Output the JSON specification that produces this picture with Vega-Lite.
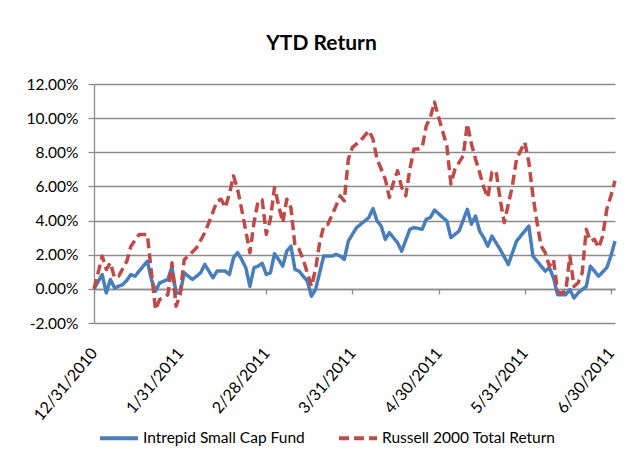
{
  "$schema": "https://vega.github.io/schema/vega-lite/v6.json",
  "width": 521,
  "height": 239,
  "autosize": {"type": "none"},
  "padding": {"left": 94, "top": 84, "right": 16, "bottom": 147},
  "background": "white",
  "config": {"view": {"stroke": null}},
  "title": {"text": "YTD Return", "font": "Lato", "fontSize": 21, "fontWeight": "bold", "color": "#000000", "anchor": "middle", "frame": "group", "dx": -33, "offset": 6, "baseline": "alphabetic"},
  "datasets": {
    "returns": [
      {"day": 0, "series": "Intrepid Small Cap Fund", "ret": 0.0},
      {"day": 2, "series": "Intrepid Small Cap Fund", "ret": 0.84},
      {"day": 3, "series": "Intrepid Small Cap Fund", "ret": -0.24},
      {"day": 4, "series": "Intrepid Small Cap Fund", "ret": 0.55},
      {"day": 5, "series": "Intrepid Small Cap Fund", "ret": 0.06},
      {"day": 7, "series": "Intrepid Small Cap Fund", "ret": 0.25},
      {"day": 8, "series": "Intrepid Small Cap Fund", "ret": 0.5},
      {"day": 9, "series": "Intrepid Small Cap Fund", "ret": 0.84},
      {"day": 10, "series": "Intrepid Small Cap Fund", "ret": 0.74},
      {"day": 11, "series": "Intrepid Small Cap Fund", "ret": 1.04},
      {"day": 13, "series": "Intrepid Small Cap Fund", "ret": 1.62},
      {"day": 14, "series": "Intrepid Small Cap Fund", "ret": 0.55},
      {"day": 15, "series": "Intrepid Small Cap Fund", "ret": -0.14},
      {"day": 16, "series": "Intrepid Small Cap Fund", "ret": 0.35},
      {"day": 18, "series": "Intrepid Small Cap Fund", "ret": 0.55},
      {"day": 19, "series": "Intrepid Small Cap Fund", "ret": 1.29},
      {"day": 20, "series": "Intrepid Small Cap Fund", "ret": -0.24},
      {"day": 21, "series": "Intrepid Small Cap Fund", "ret": -0.24},
      {"day": 22, "series": "Intrepid Small Cap Fund", "ret": 0.94},
      {"day": 23, "series": "Intrepid Small Cap Fund", "ret": 0.74},
      {"day": 24, "series": "Intrepid Small Cap Fund", "ret": 0.55},
      {"day": 26, "series": "Intrepid Small Cap Fund", "ret": 0.94},
      {"day": 27, "series": "Intrepid Small Cap Fund", "ret": 1.43},
      {"day": 29, "series": "Intrepid Small Cap Fund", "ret": 0.65},
      {"day": 30, "series": "Intrepid Small Cap Fund", "ret": 1.04},
      {"day": 32, "series": "Intrepid Small Cap Fund", "ret": 1.04},
      {"day": 33, "series": "Intrepid Small Cap Fund", "ret": 0.84},
      {"day": 34, "series": "Intrepid Small Cap Fund", "ret": 1.82},
      {"day": 35, "series": "Intrepid Small Cap Fund", "ret": 2.12},
      {"day": 36, "series": "Intrepid Small Cap Fund", "ret": 1.72},
      {"day": 37, "series": "Intrepid Small Cap Fund", "ret": 1.24},
      {"day": 38, "series": "Intrepid Small Cap Fund", "ret": 0.15},
      {"day": 39, "series": "Intrepid Small Cap Fund", "ret": 1.24},
      {"day": 40, "series": "Intrepid Small Cap Fund", "ret": 1.33},
      {"day": 41, "series": "Intrepid Small Cap Fund", "ret": 1.5},
      {"day": 42, "series": "Intrepid Small Cap Fund", "ret": 0.84},
      {"day": 43, "series": "Intrepid Small Cap Fund", "ret": 0.94},
      {"day": 44, "series": "Intrepid Small Cap Fund", "ret": 2.06},
      {"day": 45, "series": "Intrepid Small Cap Fund", "ret": 1.72},
      {"day": 46, "series": "Intrepid Small Cap Fund", "ret": 1.33},
      {"day": 47, "series": "Intrepid Small Cap Fund", "ret": 2.21},
      {"day": 48, "series": "Intrepid Small Cap Fund", "ret": 2.5},
      {"day": 49, "series": "Intrepid Small Cap Fund", "ret": 1.13},
      {"day": 50, "series": "Intrepid Small Cap Fund", "ret": 1.04},
      {"day": 51, "series": "Intrepid Small Cap Fund", "ret": 0.74},
      {"day": 52, "series": "Intrepid Small Cap Fund", "ret": 0.45},
      {"day": 53, "series": "Intrepid Small Cap Fund", "ret": -0.43},
      {"day": 54, "series": "Intrepid Small Cap Fund", "ret": -0.04},
      {"day": 55, "series": "Intrepid Small Cap Fund", "ret": 0.94},
      {"day": 56, "series": "Intrepid Small Cap Fund", "ret": 1.92},
      {"day": 58, "series": "Intrepid Small Cap Fund", "ret": 1.92},
      {"day": 59, "series": "Intrepid Small Cap Fund", "ret": 2.02},
      {"day": 60, "series": "Intrepid Small Cap Fund", "ret": 1.92},
      {"day": 61, "series": "Intrepid Small Cap Fund", "ret": 1.72},
      {"day": 62, "series": "Intrepid Small Cap Fund", "ret": 2.8},
      {"day": 64, "series": "Intrepid Small Cap Fund", "ret": 3.59},
      {"day": 66, "series": "Intrepid Small Cap Fund", "ret": 3.98},
      {"day": 67, "series": "Intrepid Small Cap Fund", "ret": 4.18},
      {"day": 68, "series": "Intrepid Small Cap Fund", "ret": 4.7},
      {"day": 69, "series": "Intrepid Small Cap Fund", "ret": 3.98},
      {"day": 70, "series": "Intrepid Small Cap Fund", "ret": 3.68},
      {"day": 71, "series": "Intrepid Small Cap Fund", "ret": 2.9},
      {"day": 72, "series": "Intrepid Small Cap Fund", "ret": 3.29},
      {"day": 74, "series": "Intrepid Small Cap Fund", "ret": 2.7},
      {"day": 75, "series": "Intrepid Small Cap Fund", "ret": 2.21},
      {"day": 77, "series": "Intrepid Small Cap Fund", "ret": 3.49},
      {"day": 78, "series": "Intrepid Small Cap Fund", "ret": 3.59},
      {"day": 80, "series": "Intrepid Small Cap Fund", "ret": 3.49},
      {"day": 81, "series": "Intrepid Small Cap Fund", "ret": 4.08},
      {"day": 82, "series": "Intrepid Small Cap Fund", "ret": 4.18},
      {"day": 83, "series": "Intrepid Small Cap Fund", "ret": 4.62},
      {"day": 85, "series": "Intrepid Small Cap Fund", "ret": 4.18},
      {"day": 86, "series": "Intrepid Small Cap Fund", "ret": 3.98},
      {"day": 87, "series": "Intrepid Small Cap Fund", "ret": 3.0},
      {"day": 89, "series": "Intrepid Small Cap Fund", "ret": 3.39},
      {"day": 91, "series": "Intrepid Small Cap Fund", "ret": 4.66},
      {"day": 92, "series": "Intrepid Small Cap Fund", "ret": 3.78},
      {"day": 93, "series": "Intrepid Small Cap Fund", "ret": 4.27},
      {"day": 94, "series": "Intrepid Small Cap Fund", "ret": 3.39},
      {"day": 95, "series": "Intrepid Small Cap Fund", "ret": 3.0},
      {"day": 96, "series": "Intrepid Small Cap Fund", "ret": 2.5},
      {"day": 97, "series": "Intrepid Small Cap Fund", "ret": 3.09},
      {"day": 99, "series": "Intrepid Small Cap Fund", "ret": 2.31},
      {"day": 101, "series": "Intrepid Small Cap Fund", "ret": 1.43},
      {"day": 103, "series": "Intrepid Small Cap Fund", "ret": 2.8},
      {"day": 106, "series": "Intrepid Small Cap Fund", "ret": 3.68},
      {"day": 107, "series": "Intrepid Small Cap Fund", "ret": 1.92},
      {"day": 109, "series": "Intrepid Small Cap Fund", "ret": 1.33},
      {"day": 110, "series": "Intrepid Small Cap Fund", "ret": 1.04},
      {"day": 111, "series": "Intrepid Small Cap Fund", "ret": 1.24},
      {"day": 112, "series": "Intrepid Small Cap Fund", "ret": 0.65},
      {"day": 113, "series": "Intrepid Small Cap Fund", "ret": -0.34},
      {"day": 115, "series": "Intrepid Small Cap Fund", "ret": -0.34},
      {"day": 116, "series": "Intrepid Small Cap Fund", "ret": -0.04},
      {"day": 117, "series": "Intrepid Small Cap Fund", "ret": -0.53},
      {"day": 118, "series": "Intrepid Small Cap Fund", "ret": -0.24},
      {"day": 120, "series": "Intrepid Small Cap Fund", "ret": 0.15},
      {"day": 121, "series": "Intrepid Small Cap Fund", "ret": 1.33},
      {"day": 123, "series": "Intrepid Small Cap Fund", "ret": 0.74},
      {"day": 125, "series": "Intrepid Small Cap Fund", "ret": 1.24},
      {"day": 126, "series": "Intrepid Small Cap Fund", "ret": 1.92},
      {"day": 127, "series": "Intrepid Small Cap Fund", "ret": 2.8},
      {"day": 0, "series": "Russell 2000 Total Return", "ret": 0.0},
      {"day": 1, "series": "Russell 2000 Total Return", "ret": 0.94},
      {"day": 2, "series": "Russell 2000 Total Return", "ret": 1.92},
      {"day": 3, "series": "Russell 2000 Total Return", "ret": 1.13},
      {"day": 4, "series": "Russell 2000 Total Return", "ret": 1.53},
      {"day": 5, "series": "Russell 2000 Total Return", "ret": 0.65},
      {"day": 6, "series": "Russell 2000 Total Return", "ret": 0.74},
      {"day": 8, "series": "Russell 2000 Total Return", "ret": 1.62},
      {"day": 9, "series": "Russell 2000 Total Return", "ret": 2.5},
      {"day": 11, "series": "Russell 2000 Total Return", "ret": 3.19},
      {"day": 13, "series": "Russell 2000 Total Return", "ret": 3.19},
      {"day": 14, "series": "Russell 2000 Total Return", "ret": 0.94},
      {"day": 15, "series": "Russell 2000 Total Return", "ret": -1.22},
      {"day": 16, "series": "Russell 2000 Total Return", "ret": -0.63},
      {"day": 18, "series": "Russell 2000 Total Return", "ret": -0.34},
      {"day": 19, "series": "Russell 2000 Total Return", "ret": 1.53},
      {"day": 20, "series": "Russell 2000 Total Return", "ret": -1.02},
      {"day": 21, "series": "Russell 2000 Total Return", "ret": -0.34},
      {"day": 22, "series": "Russell 2000 Total Return", "ret": 1.72},
      {"day": 23, "series": "Russell 2000 Total Return", "ret": 1.92},
      {"day": 25, "series": "Russell 2000 Total Return", "ret": 2.41},
      {"day": 27, "series": "Russell 2000 Total Return", "ret": 3.29},
      {"day": 28, "series": "Russell 2000 Total Return", "ret": 3.88},
      {"day": 30, "series": "Russell 2000 Total Return", "ret": 5.15},
      {"day": 31, "series": "Russell 2000 Total Return", "ret": 5.25},
      {"day": 32, "series": "Russell 2000 Total Return", "ret": 4.76},
      {"day": 33, "series": "Russell 2000 Total Return", "ret": 5.55},
      {"day": 34, "series": "Russell 2000 Total Return", "ret": 6.62},
      {"day": 35, "series": "Russell 2000 Total Return", "ret": 5.84},
      {"day": 36, "series": "Russell 2000 Total Return", "ret": 4.66},
      {"day": 38, "series": "Russell 2000 Total Return", "ret": 2.12},
      {"day": 39, "series": "Russell 2000 Total Return", "ret": 3.88},
      {"day": 40, "series": "Russell 2000 Total Return", "ret": 5.15},
      {"day": 41, "series": "Russell 2000 Total Return", "ret": 5.2},
      {"day": 42, "series": "Russell 2000 Total Return", "ret": 3.19},
      {"day": 43, "series": "Russell 2000 Total Return", "ret": 4.08},
      {"day": 44, "series": "Russell 2000 Total Return", "ret": 5.94},
      {"day": 45, "series": "Russell 2000 Total Return", "ret": 4.9},
      {"day": 46, "series": "Russell 2000 Total Return", "ret": 3.88},
      {"day": 47, "series": "Russell 2000 Total Return", "ret": 5.25},
      {"day": 48, "series": "Russell 2000 Total Return", "ret": 4.76},
      {"day": 49, "series": "Russell 2000 Total Return", "ret": 2.5},
      {"day": 50, "series": "Russell 2000 Total Return", "ret": 2.31},
      {"day": 51, "series": "Russell 2000 Total Return", "ret": 1.72},
      {"day": 53, "series": "Russell 2000 Total Return", "ret": 0.15},
      {"day": 54, "series": "Russell 2000 Total Return", "ret": 1.13},
      {"day": 55, "series": "Russell 2000 Total Return", "ret": 2.7},
      {"day": 56, "series": "Russell 2000 Total Return", "ret": 3.68},
      {"day": 57, "series": "Russell 2000 Total Return", "ret": 3.78},
      {"day": 59, "series": "Russell 2000 Total Return", "ret": 4.86},
      {"day": 60, "series": "Russell 2000 Total Return", "ret": 5.45},
      {"day": 61, "series": "Russell 2000 Total Return", "ret": 5.15},
      {"day": 62, "series": "Russell 2000 Total Return", "ret": 7.6},
      {"day": 63, "series": "Russell 2000 Total Return", "ret": 8.29},
      {"day": 65, "series": "Russell 2000 Total Return", "ret": 8.68},
      {"day": 67, "series": "Russell 2000 Total Return", "ret": 9.27},
      {"day": 68, "series": "Russell 2000 Total Return", "ret": 8.78},
      {"day": 69, "series": "Russell 2000 Total Return", "ret": 7.6},
      {"day": 70, "series": "Russell 2000 Total Return", "ret": 7.02},
      {"day": 71, "series": "Russell 2000 Total Return", "ret": 6.43},
      {"day": 72, "series": "Russell 2000 Total Return", "ret": 5.35},
      {"day": 73, "series": "Russell 2000 Total Return", "ret": 6.24},
      {"day": 74, "series": "Russell 2000 Total Return", "ret": 6.92},
      {"day": 75, "series": "Russell 2000 Total Return", "ret": 5.94},
      {"day": 76, "series": "Russell 2000 Total Return", "ret": 5.45},
      {"day": 77, "series": "Russell 2000 Total Return", "ret": 7.02},
      {"day": 78, "series": "Russell 2000 Total Return", "ret": 8.19},
      {"day": 79, "series": "Russell 2000 Total Return", "ret": 8.19},
      {"day": 80, "series": "Russell 2000 Total Return", "ret": 8.29},
      {"day": 81, "series": "Russell 2000 Total Return", "ret": 9.56},
      {"day": 82, "series": "Russell 2000 Total Return", "ret": 10.06},
      {"day": 83, "series": "Russell 2000 Total Return", "ret": 10.94},
      {"day": 84, "series": "Russell 2000 Total Return", "ret": 10.06},
      {"day": 86, "series": "Russell 2000 Total Return", "ret": 8.39},
      {"day": 87, "series": "Russell 2000 Total Return", "ret": 6.14},
      {"day": 88, "series": "Russell 2000 Total Return", "ret": 7.02},
      {"day": 90, "series": "Russell 2000 Total Return", "ret": 7.8},
      {"day": 91, "series": "Russell 2000 Total Return", "ret": 9.66},
      {"day": 92, "series": "Russell 2000 Total Return", "ret": 8.5},
      {"day": 93, "series": "Russell 2000 Total Return", "ret": 7.6},
      {"day": 94, "series": "Russell 2000 Total Return", "ret": 6.82},
      {"day": 95, "series": "Russell 2000 Total Return", "ret": 5.94},
      {"day": 96, "series": "Russell 2000 Total Return", "ret": 5.35},
      {"day": 97, "series": "Russell 2000 Total Return", "ret": 6.82},
      {"day": 98, "series": "Russell 2000 Total Return", "ret": 6.92},
      {"day": 99, "series": "Russell 2000 Total Return", "ret": 5.25},
      {"day": 100, "series": "Russell 2000 Total Return", "ret": 3.88},
      {"day": 102, "series": "Russell 2000 Total Return", "ret": 6.04},
      {"day": 103, "series": "Russell 2000 Total Return", "ret": 7.6},
      {"day": 105, "series": "Russell 2000 Total Return", "ret": 8.59},
      {"day": 106, "series": "Russell 2000 Total Return", "ret": 7.41},
      {"day": 107, "series": "Russell 2000 Total Return", "ret": 5.45},
      {"day": 108, "series": "Russell 2000 Total Return", "ret": 3.88},
      {"day": 109, "series": "Russell 2000 Total Return", "ret": 2.5},
      {"day": 110, "series": "Russell 2000 Total Return", "ret": 2.12},
      {"day": 111, "series": "Russell 2000 Total Return", "ret": 1.33},
      {"day": 112, "series": "Russell 2000 Total Return", "ret": 1.72},
      {"day": 113, "series": "Russell 2000 Total Return", "ret": -0.14},
      {"day": 114, "series": "Russell 2000 Total Return", "ret": -0.24},
      {"day": 115, "series": "Russell 2000 Total Return", "ret": -0.14},
      {"day": 116, "series": "Russell 2000 Total Return", "ret": 1.92},
      {"day": 117, "series": "Russell 2000 Total Return", "ret": 0.15},
      {"day": 118, "series": "Russell 2000 Total Return", "ret": 0.35},
      {"day": 119, "series": "Russell 2000 Total Return", "ret": 0.94},
      {"day": 120, "series": "Russell 2000 Total Return", "ret": 3.49},
      {"day": 121, "series": "Russell 2000 Total Return", "ret": 2.8},
      {"day": 122, "series": "Russell 2000 Total Return", "ret": 2.9},
      {"day": 123, "series": "Russell 2000 Total Return", "ret": 2.41},
      {"day": 124, "series": "Russell 2000 Total Return", "ret": 3.09},
      {"day": 125, "series": "Russell 2000 Total Return", "ret": 4.66},
      {"day": 126, "series": "Russell 2000 Total Return", "ret": 5.45},
      {"day": 127, "series": "Russell 2000 Total Return", "ret": 6.33}
    ]
  },
  "data": {"name": "returns"},
  "layer": [
    {
      "mark": {"type": "line", "strokeWidth": 3.5, "strokeJoin": "round"},
      "encoding": {
        "x": {
          "field": "day", "type": "quantitative",
          "scale": {"domain": [0, 127], "nice": false, "zero": false},
          "axis": {
            "title": null, "grid": false, "domain": false, "ticks": false, "tickSize": 0,
            "values": [0, 21, 42, 63, 84, 105, 126],
            "labelExpr": "['12/31/2010','1/31/2011','2/28/2011','3/31/2011','4/30/2011','5/31/2011','6/30/2011'][round(datum.value/21)]",
            "labelAngle": -50, "labelAlign": "right", "labelBaseline": "middle",
            "labelPadding": 27, "labelFont": "Lato", "labelFontSize": 16,
            "labelColor": "#000000", "labelOverlap": false, "labelFlush": false, "labelBound": false
          }
        },
        "y": {
          "field": "ret", "type": "quantitative",
          "scale": {"domain": [-2, 12], "nice": false, "zero": false},
          "axis": {
            "title": null, "values": [-2, 0, 2, 4, 6, 8, 10, 12],
            "labelExpr": "replace(format(datum.value, '.2f'), '\u2212', '-') + '%'",
            "grid": true, "gridColor": "#8c8c8c", "gridWidth": 1.3,
            "domain": true, "domainColor": "#8c8c8c", "domainWidth": 1.3,
            "ticks": true, "tickColor": "#8c8c8c", "tickSize": 6, "tickWidth": 1.3,
            "labelPadding": 10, "labelFont": "Lato", "labelFontSize": 15.5,
            "labelColor": "#000000", "labelOverlap": false
          }
        },
        "color": {
          "field": "series", "type": "nominal",
          "scale": {"domain": ["Intrepid Small Cap Fund", "Russell 2000 Total Return"], "range": ["#4A7EBB", "#BE4B48"]},
          "legend": {
            "title": null, "orient": "none", "direction": "horizontal", "legendX": 4, "legendY": 333,
            "symbolType": "stroke", "symbolSize": 1444, "symbolStrokeWidth": 4,
            "labelFont": "Lato", "labelFontSize": 15.5, "labelColor": "#000000",
            "labelOffset": 3, "columnPadding": 26, "labelLimit": 300
          }
        },
        "strokeDash": {
          "field": "series", "type": "nominal",
          "scale": {"domain": ["Intrepid Small Cap Fund", "Russell 2000 Total Return"], "range": [[1, 0], [10, 5]]},
          "legend": {
            "title": null, "orient": "none", "direction": "horizontal", "legendX": 4, "legendY": 333,
            "symbolType": "stroke", "symbolSize": 1444, "symbolStrokeWidth": 4,
            "labelFont": "Lato", "labelFontSize": 15.5, "labelColor": "#000000",
            "labelOffset": 3, "columnPadding": 26, "labelLimit": 300
          }
        }
      }
    },
    {
      "mark": {"type": "point", "opacity": 0},
      "encoding": {
        "x": {
          "field": "day", "type": "quantitative",
          "axis": {
            "orient": "bottom", "offset": -34, "title": null, "labels": false, "grid": false,
            "values": [0, 21, 42, 63, 84, 105, 126],
            "domain": true, "domainColor": "#8c8c8c", "domainWidth": 1.3,
            "ticks": true, "tickColor": "#8c8c8c", "tickSize": 5, "tickWidth": 1.3
          }
        }
      }
    }
  ],
  "resolve": {"axis": {"x": "independent"}}
}
